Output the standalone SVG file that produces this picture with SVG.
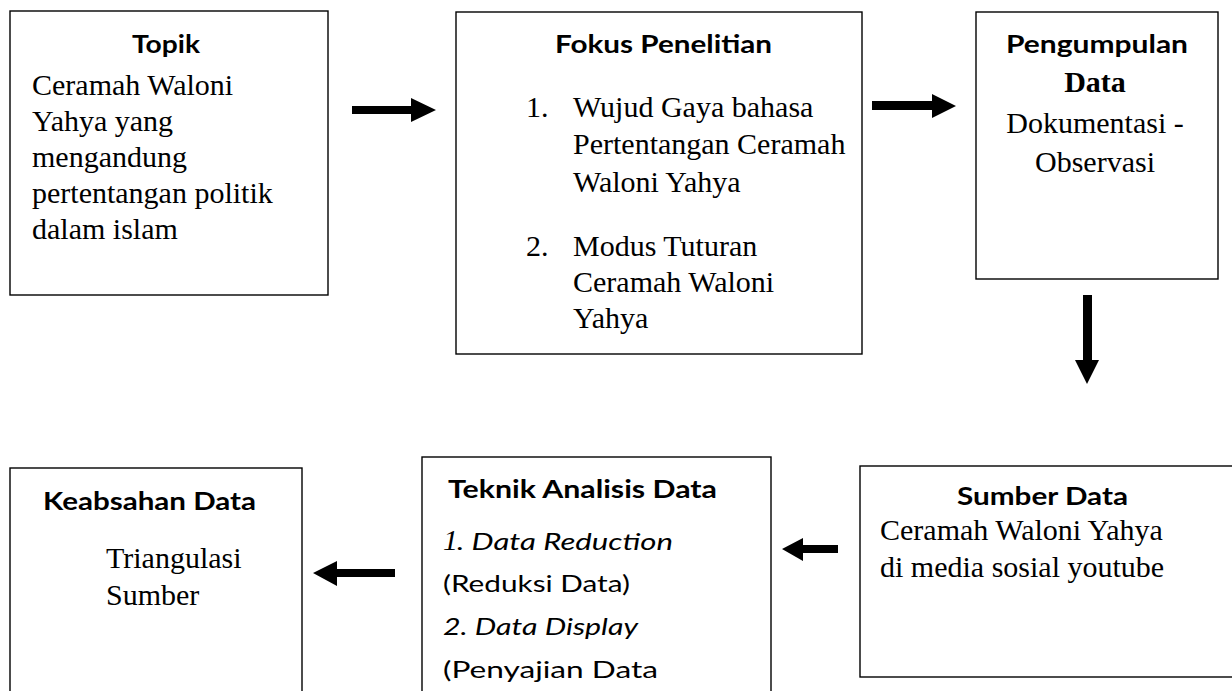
<svg xmlns="http://www.w3.org/2000/svg" width="1232" height="691" viewBox="0 0 1232 691">
<style>
.box{fill:#fff;stroke:#000;stroke-width:1.4}
.t{font-family:Lato,"Open Sans",sans-serif;font-weight:bold;font-size:25px;fill:#000}
.s{font-family:"Liberation Serif","Times New Roman",serif;font-size:30px;fill:#000}
.c{font-family:Lato,"Open Sans",sans-serif;font-size:24px;fill:#000}
.arr{fill:#000;stroke:none}
</style>
<rect width="1232" height="691" fill="#fff"/>
<g id="topik">
<rect class="box" x="10" y="11" width="318" height="284"/>
<text class="t" x="132" y="53" textLength="68" lengthAdjust="spacingAndGlyphs">Topik</text>
<text class="s" x="32" y="95">Ceramah Waloni</text>
<text class="s" x="32" y="131">Yahya yang</text>
<text class="s" x="32" y="167">mengandung</text>
<text class="s" x="32" y="203">pertentangan politik</text>
<text class="s" x="32" y="239">dalam islam</text>
</g>
<g id="fokus">
<rect class="box" x="456" y="12" width="406" height="342"/>
<text class="t" x="555" y="53" textLength="217" lengthAdjust="spacingAndGlyphs">Fokus Penelitian</text>
<text class="s" x="526" y="117">1.</text>
<text class="s" x="573" y="117">Wujud Gaya bahasa</text>
<text class="s" x="573" y="154">Pertentangan Ceramah</text>
<text class="s" x="573" y="192">Waloni Yahya</text>
<text class="s" x="526" y="256">2.</text>
<text class="s" x="573" y="256">Modus Tuturan</text>
<text class="s" x="573" y="292">Ceramah Waloni</text>
<text class="s" x="573" y="328">Yahya</text>
</g>
<g id="pengumpulan">
<rect class="box" x="976" y="12" width="242" height="267"/>
<text class="t" x="1006" y="53" textLength="182" lengthAdjust="spacingAndGlyphs">Pengumpulan</text>
<text class="s" x="1095" y="92" text-anchor="middle" font-weight="bold">Data</text>
<text class="s" x="1095" y="133" text-anchor="middle">Dokumentasi -</text>
<text class="s" x="1095" y="172" text-anchor="middle">Observasi</text>
</g>
<g id="sumber">
<rect class="box" x="860" y="466" width="390" height="211"/>
<text class="t" x="957" y="505" textLength="171" lengthAdjust="spacingAndGlyphs">Sumber Data</text>
<text class="s" x="880" y="540">Ceramah Waloni Yahya</text>
<text class="s" x="880" y="577">di media sosial youtube</text>
</g>
<g id="teknik">
<rect class="box" x="422" y="457" width="349" height="250"/>
<text class="t" x="448" y="498" textLength="269" lengthAdjust="spacingAndGlyphs">Teknik Analisis Data</text>
<text class="s" x="443" y="550" font-style="italic" font-size="29px">1</text>
<text class="c" x="457" y="550" font-style="italic" textLength="216" lengthAdjust="spacingAndGlyphs">. Data Reduction</text>
<text class="c" x="443" y="592" textLength="187" lengthAdjust="spacingAndGlyphs">(Reduksi Data)</text>
<text class="c" x="443" y="635" font-style="italic" textLength="195" lengthAdjust="spacingAndGlyphs">2. Data Display</text>
<text class="c" x="443" y="678" textLength="215" lengthAdjust="spacingAndGlyphs">(Penyajian Data</text>
</g>
<g id="keabsahan">
<rect class="box" x="10" y="468" width="292" height="240"/>
<text class="t" x="43" y="510" textLength="213" lengthAdjust="spacingAndGlyphs">Keabsahan Data</text>
<text class="s" x="106" y="568">Triangulasi</text>
<text class="s" x="106" y="605">Sumber</text>
</g>
<g id="connectors">
<polygon class="arr" points="352,106 411,106 411,98 436,110 411,122 411,114 352,114"/>
<polygon class="arr" points="872,101 932,101 932,94 956,106 932,118 932,110 872,110"/>
<polygon class="arr" points="1083,295 1092,295 1092,360 1099,360 1087,384 1075,360 1083,360"/>
<polygon class="arr" points="838,545 803,545 803,538 782,549 803,561 803,553 838,553"/>
<polygon class="arr" points="395,569 337,569 337,561 313,573 337,586 337,577 395,577"/>
</g>
</svg>
